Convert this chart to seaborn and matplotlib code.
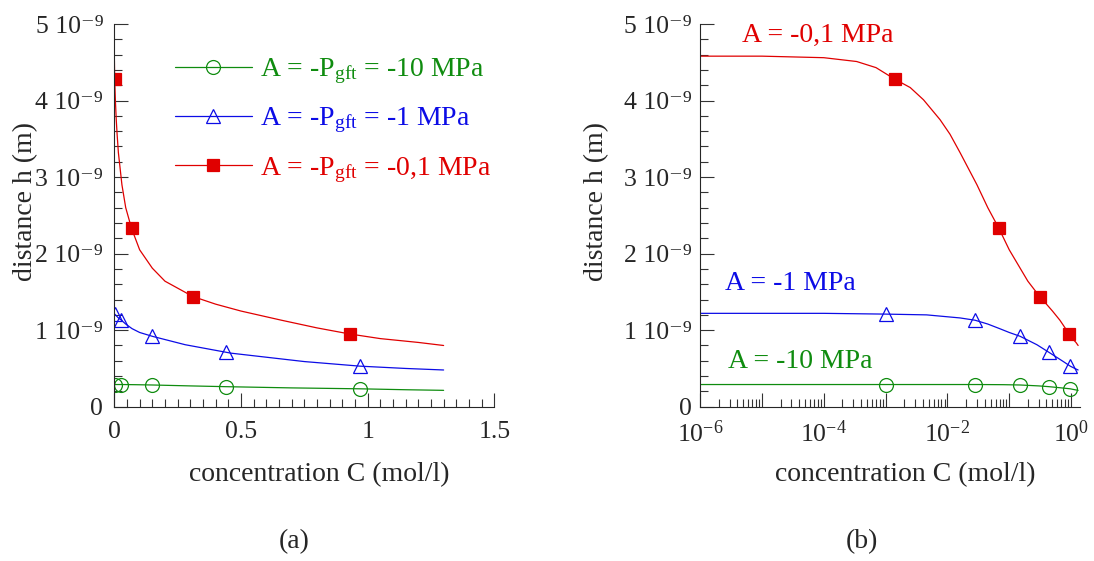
import numpy as np
import seaborn as sns
import matplotlib.pyplot as plt
from matplotlib.lines import Line2D
from matplotlib.ticker import MultipleLocator, LogLocator, FuncFormatter, NullFormatter

# computed curves, concentration C (mol/l) and distance h (1e-9 m)
conc_green = [1e-6, 1e-4, 1e-3, 0.01, 0.03, 0.08, 0.15, 0.3, 0.44, 0.7, 0.97, 1.15, 1.3]
h_green = [0.29, 0.29, 0.29, 0.29, 0.29, 0.288, 0.284, 0.272, 0.262, 0.246, 0.234, 0.222, 0.214]

conc_blue = [1e-6, 1e-4, 1e-3, 0.0046, 0.016, 0.028, 0.045, 0.07, 0.1, 0.15,
             0.28, 0.46, 0.75, 0.97, 1.15, 1.3]
h_blue = [1.22, 1.22, 1.21, 1.20, 1.16, 1.13, 1.08, 1.02, 0.97, 0.92,
          0.81, 0.70, 0.59, 0.53, 0.50, 0.48]

conc_red = [1e-6, 1e-5, 1e-4, 3.4e-4, 7e-4, 0.0014, 0.0025, 0.0041, 0.0076, 0.011, 0.016,
            0.03, 0.045, 0.068, 0.1, 0.15, 0.2, 0.31, 0.4, 0.5, 0.66, 0.8, 0.93, 1.05, 1.2, 1.3]
h_red = [4.58, 4.58, 4.56, 4.51, 4.43, 4.28, 4.17, 4.01, 3.75, 3.56, 3.32,
         2.90, 2.60, 2.33, 2.05, 1.81, 1.64, 1.44, 1.34, 1.25, 1.13, 1.03, 0.95, 0.89, 0.84, 0.80]

# marked points
conc_pts = [0.001, 0.028, 0.15, 0.44, 0.97]
h_green_pts = [0.29, 0.29, 0.285, 0.26, 0.235]
h_blue_pts = [1.21, 1.13, 0.92, 0.71, 0.53]
conc_red_pts = [0.0014, 0.068, 0.31, 0.93]
h_red_pts = [4.28, 2.33, 1.44, 0.95]

green = '#0f8c0f'
blue = '#0c0ce6'
red = '#e00000'

series = [
    (conc_green, h_green, conc_pts, h_green_pts, green, 'o', 'none', 10,
     'A = -P$\\mathregular{_{gft}}$ = -10 MPa', 'A = -10 MPa'),
    (conc_blue, h_blue, conc_pts, h_blue_pts, blue, '^', 'none', 10,
     'A = -P$\\mathregular{_{gft}}$ = -1 MPa', 'A = -1 MPa'),
    (conc_red, h_red, conc_red_pts, h_red_pts, red, 's', red, 9,
     'A = -P$\\mathregular{_{gft}}$ = -0,1 MPa', 'A = -0,1 MPa'),
]

sns.set_theme(style='ticks')
plt.rcParams['font.family'] = ['Liberation Serif', 'DejaVu Serif']
plt.rcParams['axes.linewidth'] = 0.8

fig = plt.figure(figsize=(10.94, 5.61), dpi=100)
ax_a = fig.add_axes([0.1045, 0.275, 0.3473, 0.6822])
ax_b = fig.add_axes([0.6400, 0.275, 0.3473, 0.6822])
ax_b.set_xscale('log')

for ax in (ax_a, ax_b):
    for c, h, cp, hp, col, m, fc, ms, lab, short in series:
        sns.lineplot(x=c, y=np.array(h) * 1e-9, ax=ax, color=col, lw=0.9, sort=False)
        sns.lineplot(x=cp, y=np.array(hp) * 1e-9, ax=ax, color=col, linestyle='',
                     marker=m, ms=ms, mfc=fc, mec=col, mew=0.9, sort=False)

sup = str.maketrans('-9', '⁻⁹')


def h_fmt(v, pos):
    n = int(round(v * 1e9))
    return '0' if n == 0 else f'{n} 10' + '-9'.translate(sup)


def log_fmt(v, pos):
    e = int(round(np.log10(v)))
    return f'10$\\mathregular{{^{{{e}}}}}$' if e % 2 == 0 else ''


for ax in (ax_a, ax_b):
    sns.despine(ax=ax)
    ax.set_ylim(0, 5e-9)
    ax.yaxis.set_major_locator(MultipleLocator(1e-9))
    ax.yaxis.set_minor_locator(MultipleLocator(0.2e-9))
    ax.yaxis.set_major_formatter(FuncFormatter(h_fmt))
    ax.tick_params(which='both', direction='in', color='#333333', width=0.8,
                   labelsize=18.5, top=False, right=False)
    ax.tick_params(which='major', length=10)
    ax.tick_params(which='minor', length=5.5)
    ax.tick_params(axis='y', pad=8)
    ax.set_xlabel('concentration C (mol/l)', fontsize=20)
    ax.set_ylabel('distance h (m)', fontsize=20)
    ax.xaxis.set_label_coords(0.539, -0.144)

ax_a.set_xlim(0, 1.5)
ax_a.xaxis.set_major_locator(MultipleLocator(0.5))
ax_a.xaxis.set_minor_locator(MultipleLocator(0.05))
ax_a.xaxis.set_major_formatter(FuncFormatter(lambda v, p: f'{v:g}'))
ax_a.tick_params(axis='x', pad=10)
ax_a.yaxis.set_label_coords(-0.2, 0.535)

ax_b.set_xlim(1e-6, 1.4)
ax_b.xaxis.set_major_locator(LogLocator(base=10, numticks=12))
ax_b.xaxis.set_minor_locator(LogLocator(base=10, subs=np.arange(2, 10), numticks=12))
ax_b.xaxis.set_major_formatter(FuncFormatter(log_fmt))
ax_b.xaxis.set_minor_formatter(NullFormatter())
ax_b.tick_params(axis='x', pad=10)
ax_b.tick_params(axis='y', pad=6)
ax_b.yaxis.set_label_coords(-0.24, 0.535)

# legend on panel (a)
handles = [Line2D([], [], color=s[4], lw=0.9, marker=s[5], ms=s[7], mfc=s[6], mec=s[4], mew=0.9)
           for s in series]
ax_a.legend(handles, [s[8] for s in series], loc='upper left', bbox_to_anchor=(0.16, 0.915),
            frameon=False, fontsize=20, handlelength=2.75, handletextpad=0.3,
            labelspacing=0.7, borderaxespad=0, borderpad=0,
            labelcolor=[s[4] for s in series])

# direct labels on panel (b)
ax_b.text(0.11, 0.971, series[2][9], color=red, fontsize=20, va='center', transform=ax_b.transAxes)
ax_b.text(0.065, 0.323, series[1][9], color=blue, fontsize=20, va='center', transform=ax_b.transAxes)
ax_b.text(0.073, 0.119, series[0][9], color=green, fontsize=20, va='center', transform=ax_b.transAxes)

fig.text(294 / 1094, 1 - 542 / 561, '(a)', ha='center', va='center', fontsize=20)
fig.text(862 / 1094, 1 - 542 / 561, '(b)', ha='center', va='center', fontsize=20)

fig.savefig('out.png', dpi=100)
plt.close(fig)
